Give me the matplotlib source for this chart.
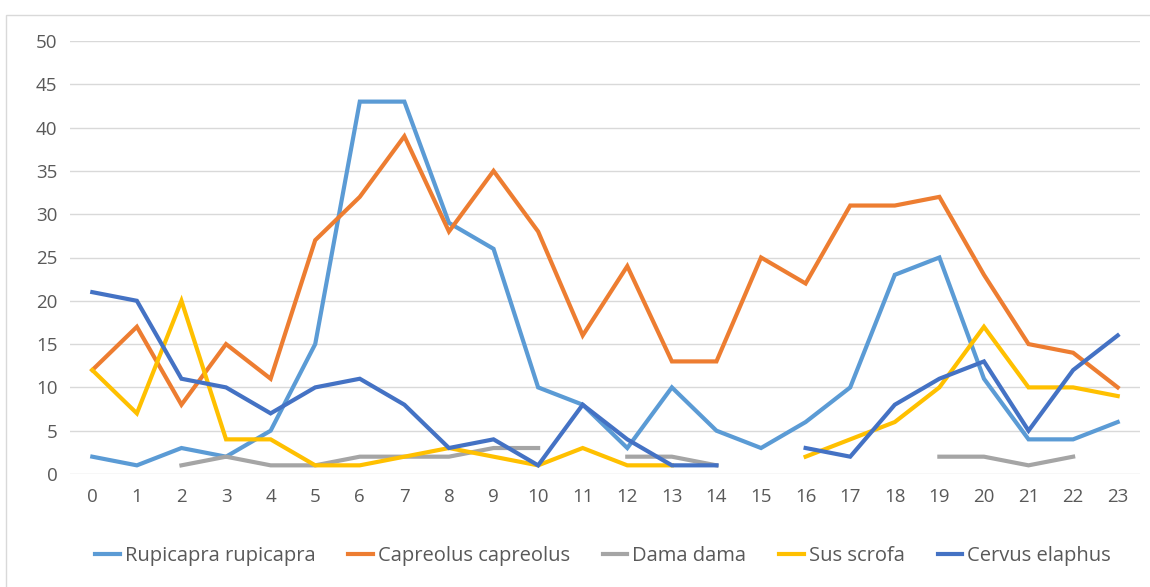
import matplotlib.pyplot as plt
import numpy as np
from matplotlib.patches import Rectangle

nan = np.nan

# Hour of day
horas = list(range(24))

rupicapra = [2, 1, 3, 2, 5, 15, 43, 43, 29, 26, 10, 8, 3, 10, 5, 3, 6, 10, 23, 25, 11, 4, 4, 6]
capreolus = [12, 17, 8, 15, 11, 27, 32, 39, 28, 35, 28, 16, 24, 13, 13, 25, 22, 31, 31, 32, 23, 15, 14, 10]
dama = [nan, nan, 1, 2, 1, 1, 2, 2, 2, 3, 3, nan, 2, 2, 1, nan, nan, nan, nan, 2, 2, 1, 2, nan]
sus = [12, 7, 20, 4, 4, 1, 1, 2, 3, 2, 1, 3, 1, 1, nan, nan, 2, 4, 6, 10, 17, 10, 10, 9]
cervus = [21, 20, 11, 10, 7, 10, 11, 8, 3, 4, 1, 8, 4, 1, 1, nan, 3, 2, 8, 11, 13, 5, 12, 16]

series = [
    ("Rupicapra rupicapra", rupicapra, "#5B9BD5"),
    ("Capreolus capreolus", capreolus, "#ED7D31"),
    ("Dama dama", dama, "#A5A5A5"),
    ("Sus scrofa", sus, "#FFC000"),
    ("Cervus elaphus", cervus, "#4472C4"),
]

plt.rcParams['font.family'] = ['Open Sans', 'DejaVu Sans']

fig = plt.figure(figsize=(11.5, 5.87), dpi=100)
ax = fig.add_axes([70 / 1150, 113 / 587, 1070 / 1150, 433 / 587])

# borde exterior del gráfico (estilo Excel)
fig.patches.append(Rectangle((6 / 1150, -0.1), 1.2, (587 - 15) / 587 + 0.1,
                             transform=fig.transFigure, fill=False,
                             edgecolor="#D9D9D9", linewidth=1))

for nombre, valores, color in series:
    ax.plot(horas, valores, color=color, linewidth=3, label=nombre,
            solid_joinstyle="miter")

ax.set_xlim(-0.5, 23.5)
ax.set_ylim(0, 50)
ax.set_xticks(horas)
ax.set_yticks(range(0, 51, 5))
ax.grid(axis="y", color="#D9D9D9", linewidth=1)
ax.set_axisbelow(True)
for s in ax.spines.values():
    s.set_visible(False)
ax.tick_params(length=0, labelsize=13.5, labelcolor="#595959")
ax.tick_params(axis="y", pad=9)
ax.tick_params(axis="x", pad=10)

leg = ax.legend(loc="center", bbox_to_anchor=(603 / 1150, 31 / 587),
                bbox_transform=fig.transFigure, ncol=5, frameon=False,
                fontsize=14.5, handlelength=1.2, columnspacing=1.65,
                handletextpad=0.25)
for t in leg.get_texts():
    t.set_color("#595959")

fig.savefig("out.png", dpi=100)
